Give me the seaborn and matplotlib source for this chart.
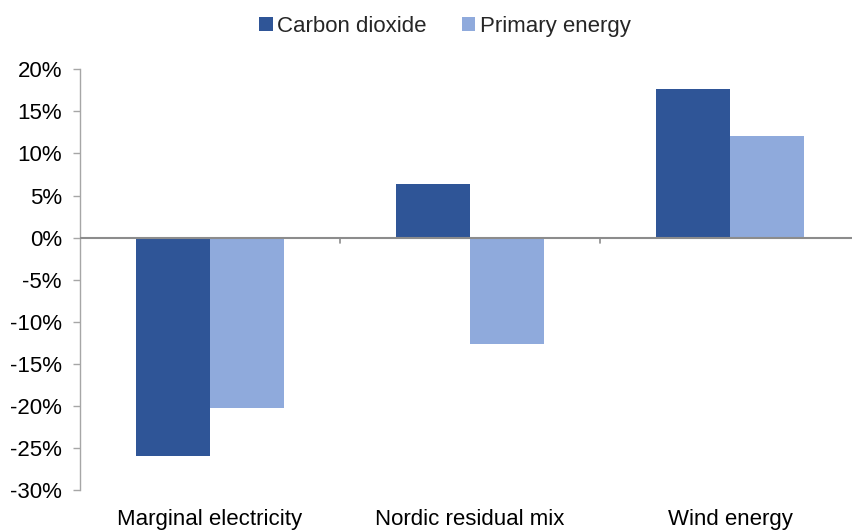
import matplotlib
matplotlib.use("Agg")
import matplotlib.pyplot as plt
from matplotlib.ticker import FuncFormatter, MultipleLocator
import seaborn as sns
import pandas as pd

# Data
categories = ["Marginal electricity", "Nordic residual mix", "Wind energy"]
series = ["Carbon dioxide", "Primary energy"]
carbon_dioxide = [-26.0, 6.4, 17.7]
primary_energy = [-20.2, -12.6, 12.1]
colors = ["#2F5597", "#8FAADC"]

df = pd.DataFrame({
    "category": categories * 2,
    "series": [series[0]] * 3 + [series[1]] * 3,
    "value": carbon_dioxide + primary_energy,
})

sns.set_theme(style="white")
plt.rcParams["font.family"] = ["Liberation Sans", "DejaVu Sans"]

fig = plt.figure(figsize=(8.52, 5.30), dpi=100)
ax = fig.add_axes([80 / 852, 1 - 490 / 530, 780 / 852, (490 - 69.3) / 530])

sns.barplot(data=df, x="category", y="value", hue="series", order=categories,
            hue_order=series, palette=colors, saturation=1, width=0.573,
            linewidth=0, ax=ax, legend=True)

ax.set_ylim(-30, 20)
ax.set_xlim(-0.5, 2.5)
ax.yaxis.set_major_locator(MultipleLocator(5))
ax.yaxis.set_major_formatter(FuncFormatter(lambda v, _: f"{v:.0f}%"))
ax.set_xlabel("")
ax.set_ylabel("")

for s in ["top", "right", "bottom"]:
    ax.spines[s].set_visible(False)
ax.spines["left"].set_color("#A6A6A6")
ax.spines["left"].set_linewidth(1.0)

ax.tick_params(axis="y", which="major", left=True, length=5, width=1.0,
               color="#A6A6A6", labelsize=16, labelcolor="black", pad=8)
ax.tick_params(axis="x", which="major", bottom=False, labelsize=16,
               labelcolor="black", pad=8)

# Category axis drawn at zero, with separator ticks between groups
ax.axhline(0, color="#8C8C8C", linewidth=1.5, zorder=3)
for xb in [0.5, 1.5]:
    ax.plot([xb, xb], [0, -0.7], color="#8C8C8C", linewidth=1.2, zorder=3)

leg = ax.legend(loc="upper center", bbox_to_anchor=(445 / 852, 1.0),
                bbox_transform=fig.transFigure, ncol=2, frameon=False,
                fontsize=16, handlelength=0.6, handleheight=0.6,
                handletextpad=0.2, columnspacing=1.6, borderaxespad=0.3)

fig.savefig("out.png", dpi=100)
